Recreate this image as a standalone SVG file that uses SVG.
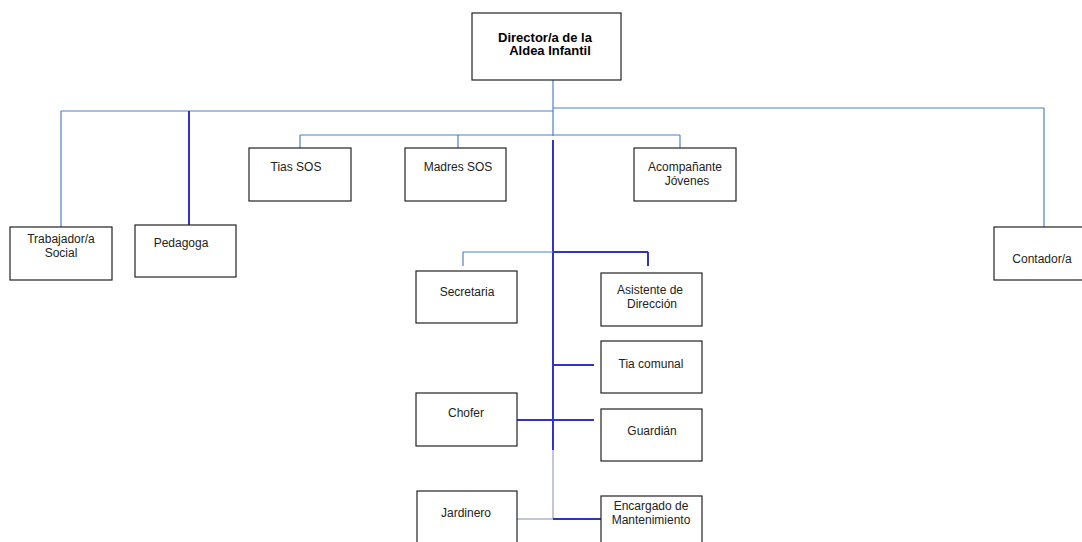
<svg xmlns="http://www.w3.org/2000/svg" width="1082" height="542" viewBox="0 0 1082 542">
<style>
.box{fill:#fff;stroke:#222;stroke-width:1.2}
.t{font-family:"Liberation Sans",Arial,sans-serif;font-size:12px;fill:#222;text-anchor:middle}
.b{font-weight:bold;font-size:13px;fill:#000}
.lt{stroke:#4f7fcc;stroke-width:1.2;fill:none}
.dk{stroke:#3232c8;stroke-width:2;fill:none}
.gy{stroke:#7f8fb0;stroke-width:1;fill:none}
</style>
<rect width="1082" height="542" fill="#fff"/>
<g id="connectors">
<line class="lt" x1="553" y1="80" x2="553" y2="136"/>
<line class="lt" x1="61" y1="111" x2="553" y2="111"/>
<line class="lt" x1="553" y1="108" x2="1044" y2="108"/>
<line class="lt" x1="61" y1="111" x2="61" y2="227"/>
<line class="dk" x1="189" y1="111" x2="189" y2="225"/>
<line class="lt" x1="1044" y1="108" x2="1044" y2="227"/>
<line class="lt" x1="300" y1="135" x2="680" y2="135"/>
<line class="lt" x1="300" y1="135" x2="300" y2="148"/>
<line class="lt" x1="458" y1="135" x2="458" y2="148"/>
<line class="lt" x1="680" y1="135" x2="680" y2="148"/>
<line class="dk" x1="553" y1="140" x2="553" y2="450"/>
<line class="gy" x1="553" y1="450" x2="553" y2="519"/>
<line class="lt" x1="463" y1="252" x2="553" y2="252"/>
<line class="lt" x1="463" y1="252" x2="463" y2="266"/>
<line class="dk" x1="553" y1="252" x2="648" y2="252"/>
<line class="dk" x1="648" y1="252" x2="648" y2="266"/>
<line class="dk" x1="553" y1="365" x2="594" y2="365"/>
<line class="dk" x1="513" y1="420" x2="594" y2="420"/>
<line class="gy" x1="513" y1="519" x2="553" y2="519"/>
<line class="dk" x1="553" y1="519" x2="601" y2="519"/>
</g>
<g id="director">
<rect class="box" x="472" y="13" width="149" height="67"/>
<text class="t b" x="545" y="42">Director/a de la</text>
<text class="t b" x="550" y="55">Aldea Infantil</text>
</g>
<g id="trabajador">
<rect class="box" x="10" y="227" width="102" height="53"/>
<text class="t" x="61" y="243">Trabajador/a</text>
<text class="t" x="61" y="257">Social</text>
</g>
<g id="pedagoga">
<rect class="box" x="135" y="225" width="101" height="52"/>
<text class="t" x="181" y="247">Pedagoga</text>
</g>
<g id="tias">
<rect class="box" x="249" y="148" width="102" height="53"/>
<text class="t" x="296" y="171">Tias SOS</text>
</g>
<g id="madres">
<rect class="box" x="405" y="148" width="101" height="53"/>
<text class="t" x="458" y="171">Madres SOS</text>
</g>
<g id="acompanante">
<rect class="box" x="634" y="148" width="102" height="53"/>
<text class="t" x="685" y="171">Acompañante</text>
<text class="t" x="687" y="185">Jóvenes</text>
</g>
<g id="contador">
<rect class="box" x="994" y="227" width="90" height="53"/>
<text class="t" x="1042" y="263">Contador/a</text>
</g>
<g id="secretaria">
<rect class="box" x="416" y="271" width="101" height="52"/>
<text class="t" x="467" y="296">Secretaria</text>
</g>
<g id="asistente">
<rect class="box" x="601" y="273" width="101" height="53"/>
<text class="t" x="650" y="294">Asistente de</text>
<text class="t" x="652" y="308">Dirección</text>
</g>
<g id="tiacomunal">
<rect class="box" x="601" y="341" width="101" height="52"/>
<text class="t" x="651" y="368">Tia comunal</text>
</g>
<g id="chofer">
<rect class="box" x="416" y="393" width="101" height="53"/>
<text class="t" x="466" y="417">Chofer</text>
</g>
<g id="guardian">
<rect class="box" x="601" y="409" width="101" height="52"/>
<text class="t" x="652" y="435">Guardián</text>
</g>
<g id="jardinero">
<rect class="box" x="417" y="491" width="100" height="60"/>
<text class="t" x="466" y="517">Jardinero</text>
</g>
<g id="encargado">
<rect class="box" x="601" y="496" width="101" height="60"/>
<text class="t" x="651" y="510">Encargado de</text>
<text class="t" x="651" y="524">Mantenimiento</text>
</g>
</svg>
